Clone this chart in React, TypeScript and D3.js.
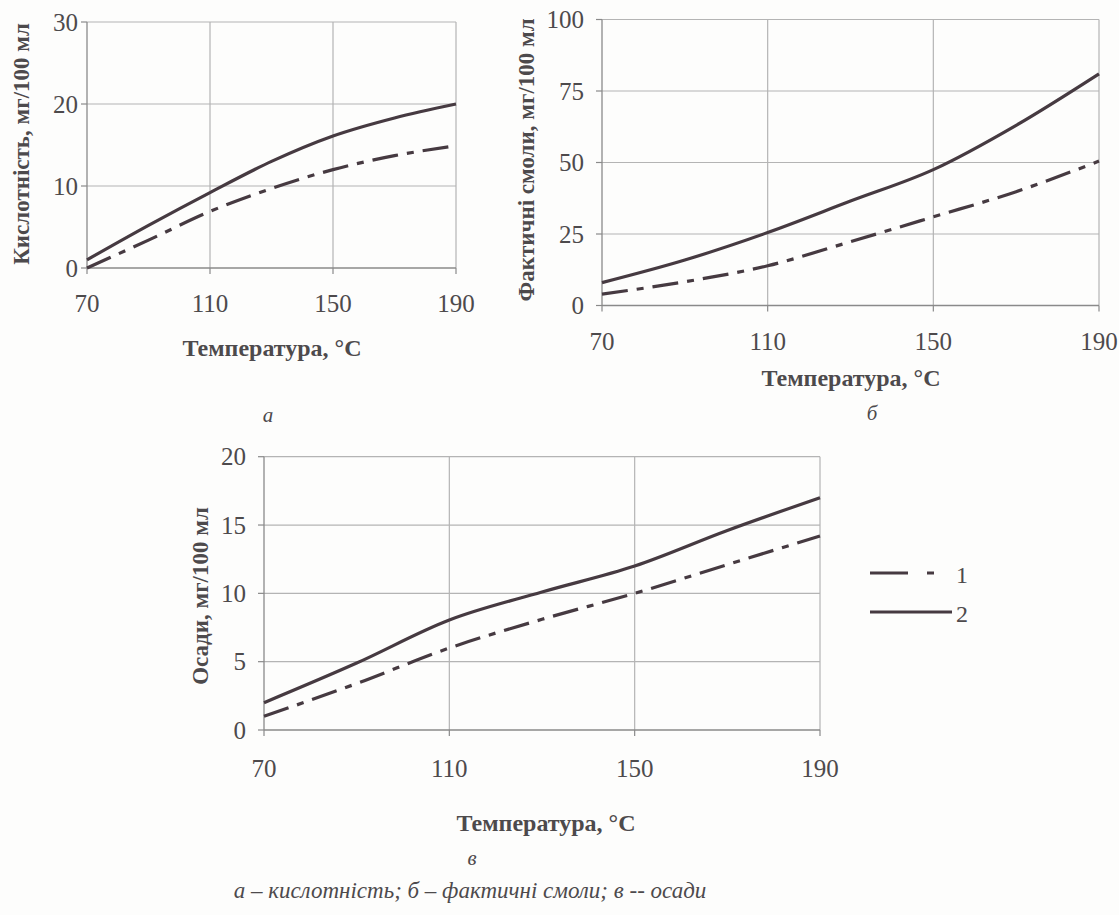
import React from "react";
import * as d3 from "d3";

const temps = [70, 90, 110, 130, 150, 170, 190];
const xTicks = [70, 110, 150, 190];

const acidSeries1 = [0, 3.4, 6.9, 9.7, 12, 13.7, 14.9];
const acidSeries2 = [1, 5.2, 9.2, 13, 16.1, 18.3, 20];
const acidTicks = [0, 10, 20, 30];

const resinSeries1 = [4, 8.3, 13.9, 22.3, 31, 39.8, 50.5];
const resinSeries2 = [8, 15.9, 25.5, 36.5, 47.5, 63, 81];
const resinTicks = [0, 25, 50, 75, 100];

const sedSeries1 = [1, 3.4, 6, 8.1, 10, 12.1, 14.2];
const sedSeries2 = [2, 4.9, 8.05, 10.1, 12, 14.6, 17];
const sedTicks = [0, 5, 10, 15, 20];

const xTitle = "Температура, °C";
const legendLabels = ["1", "2"];
const captionText = "а – кислотність; б – фактичні смоли; в -- осади";

const FONT = "'Liberation Serif', 'Times New Roman', serif";
const TEXT = "#4d4a4c";
const LINE = "#463a41";
const GRID = "#b4b4b4";
const DASH = "26,9,7,9";

type PanelProps = {
  x0: number; x1: number; yTop: number; yBottom: number;
  yTicks: number[]; s1: number[]; s2: number[];
  yTitle: string; yTitleX: number; yTitleCY: number; yLabelGap: number;
  xTickY: number; xTitleX: number; xTitleY: number;
  letter: string; letterX: number; letterY: number;
};

function Panel(p: PanelProps) {
  const x = d3.scaleLinear().domain([70, 190]).range([p.x0, p.x1]);
  const y = d3.scaleLinear().domain([0, p.yTicks[p.yTicks.length - 1]]).range([p.yBottom, p.yTop]);
  const line = d3.line<number>().x((_, i) => x(temps[i])).y((v) => y(v)).curve(d3.curveMonotoneX);
  return (
    <g>
      {xTicks.slice(1).map((t) => (
        <line key={"gx" + t} x1={x(t)} x2={x(t)} y1={p.yTop} y2={p.yBottom} stroke={GRID} strokeWidth={1.2} />
      ))}
      {p.yTicks.slice(1).map((t) => (
        <line key={"gy" + t} x1={p.x0} x2={p.x1} y1={y(t)} y2={y(t)} stroke={GRID} strokeWidth={1.2} />
      ))}
      <line x1={p.x0} x2={p.x0} y1={p.yTop} y2={p.yBottom} stroke="#8a8a8a" strokeWidth={1.3} />
      <line x1={p.x0} x2={p.x1} y1={p.yBottom} y2={p.yBottom} stroke="#8a8a8a" strokeWidth={1.3} />
      {xTicks.map((t) => (
        <g key={"tx" + t}>
          <line x1={x(t)} x2={x(t)} y1={p.yBottom} y2={p.yBottom + 6} stroke="#8a8a8a" strokeWidth={1.2} />
          <text x={x(t)} y={p.xTickY} textAnchor="middle" dominantBaseline="central" fontSize={25} fill={TEXT} fontFamily={FONT}>{t}</text>
        </g>
      ))}
      {p.yTicks.map((t) => (
        <g key={"ty" + t}>
          <line x1={p.x0 - 6} x2={p.x0} y1={y(t)} y2={y(t)} stroke="#8a8a8a" strokeWidth={1.2} />
          <text x={p.x0 - p.yLabelGap} y={y(t)} textAnchor="end" dominantBaseline="central" fontSize={25} fill={TEXT} fontFamily={FONT}>{t}</text>
        </g>
      ))}
      <path d={line(p.s1) || ""} fill="none" stroke={LINE} strokeWidth={3.2} strokeDasharray={DASH} />
      <path d={line(p.s2) || ""} fill="none" stroke={LINE} strokeWidth={3.2} />
      <text x={p.xTitleX} y={p.xTitleY} textAnchor="middle" dominantBaseline="central" fontSize={24} fontWeight="bold" fill={TEXT} fontFamily={FONT}>{xTitle}</text>
      <text transform={`translate(${p.yTitleX},${p.yTitleCY}) rotate(-90)`} textAnchor="middle" dominantBaseline="central" fontSize={23} fontWeight="bold" fill={TEXT} fontFamily={FONT}>{p.yTitle}</text>
      <text x={p.letterX} y={p.letterY} textAnchor="middle" dominantBaseline="central" fontSize={21} fontStyle="italic" fill={TEXT} fontFamily={FONT}>{p.letter}</text>
    </g>
  );
}

export default function App() {
  return (
    <svg width={1119} height={915} style={{ position: "absolute", left: 0, top: 0, background: "#fdfdfc" }}>
      <Panel x0={87} x1={456} yTop={22} yBottom={268} yTicks={acidTicks} s1={acidSeries1} s2={acidSeries2}
        yTitle="Кислотність, мг/100 мл" yTitleX={21} yTitleCY={144} yLabelGap={9} xTickY={303} xTitleX={272} xTitleY={348}
        letter="а" letterX={268} letterY={415} />
      <Panel x0={602} x1={1099} yTop={19.5} yBottom={305.5} yTicks={resinTicks} s1={resinSeries1} s2={resinSeries2}
        yTitle="Фактичні смоли, мг/100 мл" yTitleX={526} yTitleCY={160} yLabelGap={18} xTickY={341} xTitleX={851} xTitleY={378}
        letter="б" letterX={872} letterY={413} />
      <Panel x0={264} x1={820} yTop={456.7} yBottom={730} yTicks={sedTicks} s1={sedSeries1} s2={sedSeries2}
        yTitle="Осади, мг/100 мл" yTitleX={200} yTitleCY={596} yLabelGap={18} xTickY={768} xTitleX={546} xTitleY={823}
        letter="в" letterX={472} letterY={858} />
      <g>
        <line x1={870} x2={935} y1={573} y2={573} stroke={LINE} strokeWidth={3.2} strokeDasharray="38,19,7,30" />
        <text x={962} y={575} textAnchor="middle" dominantBaseline="central" fontSize={24} fill={TEXT} fontFamily={FONT}>{legendLabels[0]}</text>
        <line x1={870} x2={952} y1={612} y2={612} stroke={LINE} strokeWidth={3.2} />
        <text x={962} y={614} textAnchor="middle" dominantBaseline="central" fontSize={24} fill={TEXT} fontFamily={FONT}>{legendLabels[1]}</text>
      </g>
      <text x={470} y={890} textAnchor="middle" dominantBaseline="central" fontSize={23} fontStyle="italic" fill={TEXT} fontFamily={FONT}>{captionText}</text>
    </svg>
  );
}
